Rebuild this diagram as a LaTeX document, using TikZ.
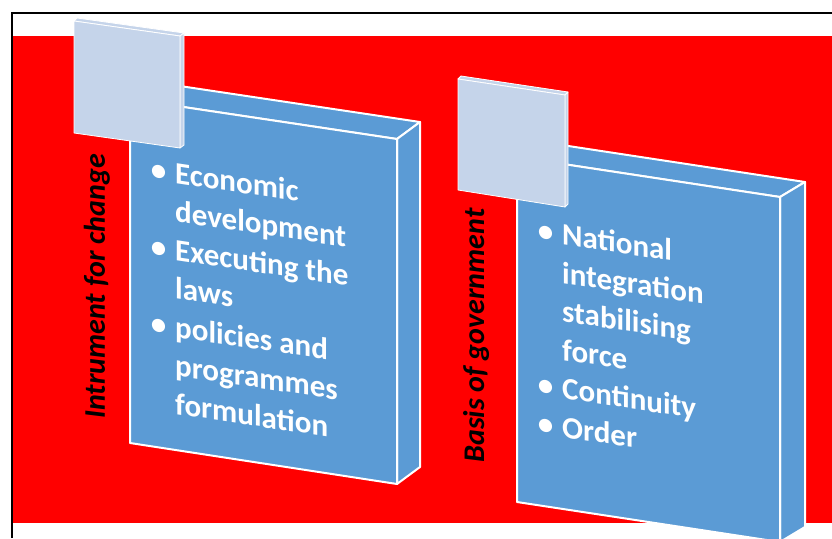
\documentclass[tikz,border=0pt]{standalone}
\usepackage{fontspec}
\setmainfont{Carlito}
\definecolor{slideRed}{RGB}{255,0,0}
\definecolor{faceBlue}{RGB}{91,155,213}
\definecolor{tabBlue}{RGB}{197,212,234}
\newcommand{\bul}{\llap{\textbullet\hspace{9pt}}}

\begin{document}
\begin{tikzpicture}[x=1pt,y=-1pt]

    \tikzset{
      face/.style={
        fill=faceBlue,
        draw=white,
        line width=2pt,
        line join=round,
      },
      tab/.style={
        fill=tabBlue,
        draw=white,
        line width=0.8pt,
        line join=round,
      },
      side label/.style={
        rotate=90,
        inner sep=0pt,
        font=\fontsize{30}{36}\selectfont\bfseries\itshape,
      },
      point list/.style={
        yslant=-0.15,
        anchor=base west,
        align=left,
        inner sep=0pt,
        text=white,
        font=\fontsize{31}{38.5}\selectfont\bfseries,
      },
    }
    \useasboundingbox (0,0) rectangle (832,538);
    \clip (0,0) rectangle (832,538);
    \fill [color={white}] (0,0) rectangle (832,538);
    \fill [color={slideRed}] (12,36) rectangle (832,523);
    \draw [color={black},line width=2pt] (11.5,538)--(11.5,13)--(832,13);

    % left block
    \coordinate (a1) at (130,99);  \coordinate (b1) at (397,139);
    \coordinate (c1) at (397,484); \coordinate (d1) at (130,443);
    \draw [face] (a1)--(b1)--([shift={(23,-17)}]b1)--([shift={(23,-17)}]a1)--cycle;
    \draw [face] (b1)--([shift={(23,-17)}]b1)--([shift={(23,-17)}]c1)--(c1)--cycle;
    \draw [face] (a1)--(b1)--(c1)--(d1)--cycle;

    % right block
    \coordinate (a2) at (517,157); \coordinate (b2) at (780,197);
    \coordinate (c2) at (780,542); \coordinate (d2) at (517,502);
    \draw [face] (a2)--(b2)--([shift={(25,-15)}]b2)--([shift={(25,-15)}]a2)--cycle;
    \draw [face] (b2)--([shift={(25,-15)}]b2)--([shift={(25,-15)}]c2)--(c2)--cycle;
    \draw [face] (a2)--(b2)--(c2)--(d2)--cycle;

    % tabs
    \draw [tab] (74,21)--(77,18)--(184,33)--(180,36)--cycle;
    \draw [tab] (180,36)--(184,33)--(184,145)--(180,148)--cycle;
    \draw [tab] (74,21)--(180,36)--(180,148)--(74,133)--cycle;
    \draw [tab] (458,79)--(461,76)--(568,92)--(565,95)--cycle;
    \draw [tab] (565,95)--(568,92)--(568,204)--(565,207)--cycle;
    \draw [tab] (458,79)--(565,95)--(565,207)--(458,190)--cycle;

    \draw [color={black}] (97,286.5) node (lab1) [side label] {Intrument for change};
    \draw [color={black}] (476,335.5) node (lab2) [side label] {Basis of government};

    \node (list1) [point list] at (175,414)
      {\bul Economic\\development\\\bul Executing the\\laws\\\bul policies and\\programmes\\formulation};
    \node (list2) [point list] at (562,437)
      {\bul National\\integration\\stabilising\\force\\\bul Continuity\\\bul Order};

\end{tikzpicture}
\end{document}
